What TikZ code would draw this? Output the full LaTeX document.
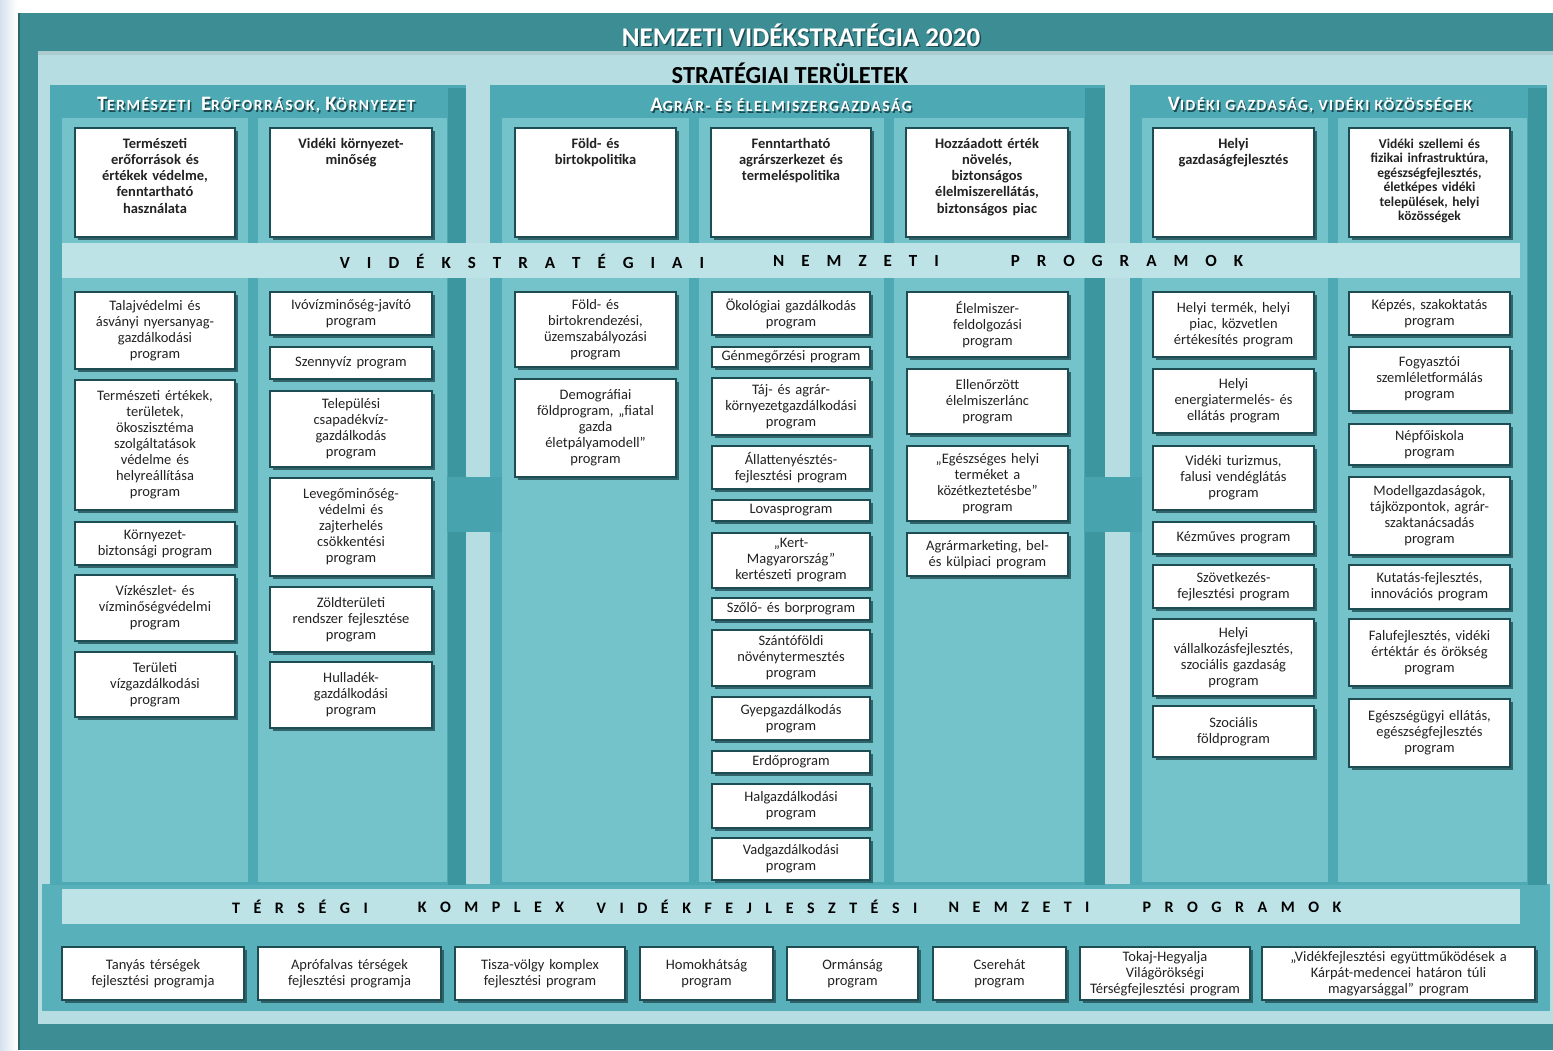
\documentclass[tikz,border=0pt]{standalone}
\usepackage{fontspec}
\setmainfont{Carlito}
\usetikzlibrary{shadows}
\definecolor{frame}{HTML}{3D8D94}
\definecolor{framedk}{HTML}{2B666D}
\definecolor{lightp}{HTML}{B6DEE2}
\definecolor{colbase}{HTML}{4DA9B3}
\definecolor{colstripe}{HTML}{74C2CA}
\definecolor{colshade}{HTML}{3C96A0}
\definecolor{colconn}{HTML}{47A3AD}
\definecolor{bandc}{HTML}{BDE3E7}
\definecolor{botbase}{HTML}{58B1BA}
\definecolor{boxedge}{HTML}{1E4C53}
\definecolor{shadowc}{HTML}{2A5A60}
\definecolor{textc}{HTML}{222222}
\definecolor{leftbl}{HTML}{D5E1EE}
\definecolor{hdrshadow}{HTML}{1D4A50}

\makeatletter
\newcommand\spword[2]{\def\sw@g{#1}\let\sw@sep\relax\@tfor\sw@l:=#2\do{\sw@sep\let\sw@sep\sw@gap\sw@l}}
\newcommand\sw@gap{\hspace{\sw@g}}
\makeatother
\newcommand\bc[1]{{\fontsize{20.5}{20}\selectfont\addfontfeature{LetterSpace=10}#1}}

\tikzset{
  pbox/.style={draw=boxedge, line width=1.8pt, fill=white, inner sep=0pt, align=center,
    text=textc, font=\fontsize{14.5}{16}\selectfont,
    drop shadow={shadow xshift=2.5pt, shadow yshift=-2.5pt, fill=shadowc, opacity=0.9}},
  tbtext/.style={align=center, inner sep=0pt, text=textc, font=\fontsize{14.5}{16.25}\selectfont\bfseries},
  hdr/.style={inner sep=0pt, text=white, font=\fontsize{15.5}{18}\selectfont\bfseries\addfontfeature{LetterSpace=10}},
  ttl/.style={inner sep=0pt, text=white, font=\fontsize{27}{27}\selectfont\bfseries},
  bandtxt/.style={inner sep=0pt, text=black, font=\fontsize{17}{17}\selectfont\bfseries},
  bandtxtb/.style={inner sep=0pt, text=black, font=\fontsize{16}{16}\selectfont\bfseries},
}

% program box: name, x1, y1, x2, y2, text
\newcommand\pb[6]{%
  \pgfmathsetmacro\bw{#4-#2}\pgfmathsetmacro\bh{#5-#3}%
  \pgfmathsetmacro\tw{#4-#2-2}%
  \pgfmathsetmacro\cx{(#2+#4)/2}\pgfmathsetmacro\cy{(#3+#5)/2}%
  \node[pbox, minimum width=\bw pt, minimum height=\bh pt, text width=\tw pt] (#1) at (\cx,\cy) {#6};}
% top box: [text opts] name, x1, x2, text
\newcommand\tb[5][]{%
  \pgfmathsetmacro\bw{#4-#3}\pgfmathsetmacro\cx{(#3+#4)/2}%
  \node[pbox, minimum width=\bw pt, minimum height=109pt] (#2) at (\cx,182.5) {};
  \node[tbtext, #1, text width=\bw pt, anchor=base] (#2t) at (\cx,148) {#5};}
% shadowed header text: name, x, y, style, text
\newcommand\shtext[5]{%
  \node[#4, text=hdrshadow] (#1s) at ({#2+1.5},{#3+1.5}) {#5};
  \node[#4] (#1) at (#2,#3) {#5};}
\newcommand\colpanel[3]{%
  \fill[colbase] (#1,85) rectangle (#2,885);
  \fill[colshade] (#3,88) rectangle (#2,885);}
\newcommand\stripe[2]{\fill[colstripe] (#1,118) rectangle (#2,882);}

\begin{document}
\begin{tikzpicture}[x=1pt,y=-1pt]
\useasboundingbox (0,0) rectangle (1553,1050);
% background and frame
\fill[white] (0,0) rectangle (1553,1050);
\shade[left color=leftbl,right color=white] (0,0) rectangle (17,1050);
\fill[frame] (18,13) rectangle (1553,1050);
\fill[framedk] (18,13) rectangle (20,1050);
\fill[lightp] (38,51) rectangle (1553,1024);
\fill[lightp!80!gray] (38,51) rectangle (1553,55);
\fill[botbase] (42,884) rectangle (1550,1011);

% column panels
\colpanel{50}{466}{448}
\colpanel{490}{1105}{1085}
\colpanel{1130}{1547}{1528}
\stripe{62}{248}\stripe{258}{447}
\stripe{502}{689}\stripe{699}{884}\stripe{894}{1084}
\stripe{1142}{1328}\stripe{1338}{1527}
% connectors between panels
\fill[colconn] (447,477) rectangle (502,532);
\fill[colconn] (1084,477) rectangle (1142,532);
% bands
\fill[bandc] (62,243) rectangle (1520,278);
\fill[bandc] (62,889) rectangle (1520,924);

% titles
\shtext{title}{801}{35}{ttl}{NEMZETI VIDÉKSTRATÉGIA 2020}
\node[inner sep=0pt, font=\fontsize{24.5}{24.5}\selectfont\bfseries, text=black] (strat) at (790,73) {STRATÉGIAI TERÜLETEK};
\shtext{hL}{256}{105}{hdr}{\bc{T}ERMÉSZETI\ \ \bc{E}RŐFORRÁSOK, \bc{K}ÖRNYEZET}
\shtext{hM}{781}{105}{hdr}{\bc{A}GRÁR- ÉS ÉLELMISZERGAZDASÁG}
\shtext{hR}{1320}{105}{hdr}{\bc{V}IDÉKI GAZDASÁG, VIDÉKI KÖZÖSSÉGEK}

% band texts
\node[bandtxt] (vs1) at (522,261) {\spword{17pt}{VIDÉKSTRATÉGIAI}};
\node[bandtxt] (vs2) at (856,261) {\spword{17pt}{NEMZETI}};
\node[bandtxt] (vs3) at (1127,261) {\spword{17pt}{PROGRAMOK}};
\node[bandtxtb] (ts1) at (300,907) {\spword{13.5pt}{TÉRSÉGI}};
\node[bandtxtb] (ts2) at (491,907) {\spword{13.5pt}{KOMPLEX}};
\node[bandtxtb] (ts3) at (757,907) {\spword{13.5pt}{VIDÉKFEJLESZTÉSI}};
\node[bandtxtb] (ts4) at (1019,907) {\spword{13.5pt}{NEMZETI}};
\node[bandtxtb] (ts5) at (1242,907) {\spword{13.5pt}{PROGRAMOK}};

% strategic area boxes
\tb{t1}{75}{235}{Természeti\\erőforrások és\\értékek védelme,\\fenntartható\\használata}
\tb{t2}{270}{432}{Vidéki környezet-\\minőség}
\tb{t3}{515}{676}{Föld- és\\birtokpolitika}
\tb{t4}{711}{871}{Fenntartható\\agrárszerkezet és\\termeléspolitika}
\tb{t5}{906}{1068}{Hozzáadott érték\\növelés,\\biztonságos\\élelmiszerellátás,\\biztonságos piac}
\tb{t6}{1153}{1314}{Helyi\\gazdaságfejlesztés}
\tb[font=\fontsize{13.5}{14.5}\selectfont\bfseries]{t7}{1349}{1510}{Vidéki szellemi és\\fizikai infrastruktúra,\\egészségfejlesztés,\\életképes vidéki\\települések, helyi\\közösségek}

% left column 1
\pb{l1a}{75}{292}{235}{369}{Talajvédelmi és\\ásványi nyersanyag-\\gazdálkodási\\program}
\pb{l1b}{75}{380}{235}{510}{Természeti értékek,\\területek,\\ökoszisztéma\\szolgáltatások\\védelme és\\helyreállítása\\program}
\pb{l1c}{75}{522}{235}{565}{Környezet-\\biztonsági program}
\pb{l1d}{75}{575}{235}{641}{Vízkészlet- és\\vízminőségvédelmi\\program}
\pb{l1e}{75}{652}{235}{717}{Területi\\vízgazdálkodási\\program}
% left column 2
\pb{l2a}{270}{292}{432}{335}{Ivóvízminőség-javító\\program}
\pb{l2b}{270}{347}{432}{379}{Szennyvíz program}
\pb{l2c}{270}{391}{432}{467}{Települési\\csapadékvíz-\\gazdálkodás\\program}
\pb{l2d}{270}{478}{432}{576}{Levegőminőség-\\védelmi és\\zajterhelés\\csökkentési\\program}
\pb{l2e}{270}{587}{432}{652}{Zöldterületi\\rendszer fejlesztése\\program}
\pb{l2f}{270}{662}{432}{728}{Hulladék-\\gazdálkodási\\program}
% middle column 1
\pb{m1a}{515}{292}{676}{367}{Föld- és\\birtokrendezési,\\üzemszabályozási\\program}
\pb{m1b}{515}{379}{676}{477}{Demográfiai\\földprogram, „fiatal\\gazda\\életpályamodell”\\program}
% middle column 2
\pb{m2a}{712}{292}{870}{335}{Ökológiai gazdálkodás\\program}
\pb{m2b}{712}{347}{870}{367}{Génmegőrzési program}
\pb{m2c}{712}{378}{870}{435}{Táj- és agrár-\\környezetgazdálkodási\\program}
\pb{m2d}{712}{446}{870}{489}{Állattenyésztés-\\fejlesztési program}
\pb{m2e}{712}{500}{870}{521}{Lovasprogram}
\pb{m2f}{712}{533}{870}{588}{„Kert-\\Magyarország”\\kertészeti program}
\pb{m2g}{712}{598}{870}{620}{Szőlő- és borprogram}
\pb{m2h}{712}{630}{870}{686}{Szántóföldi\\növénytermesztés\\program}
\pb{m2i}{712}{697}{870}{740}{Gyepgazdálkodás\\program}
\pb{m2j}{712}{751}{870}{773}{Erdőprogram}
\pb{m2k}{712}{784}{870}{828}{Halgazdálkodási\\program}
\pb{m2l}{712}{838}{870}{880}{Vadgazdálkodási\\program}
% middle column 3
\pb{m3a}{907}{292}{1068}{357}{Élelmiszer-\\feldolgozási\\program}
\pb{m3b}{907}{369}{1068}{434}{Ellenőrzött\\élelmiszerlánc\\program}
\pb{m3c}{907}{446}{1068}{521}{„Egészséges helyi\\terméket a\\közétkeztetésbe”\\program}
\pb{m3d}{907}{533}{1068}{576}{Agrármarketing, bel-\\és külpiaci program}
% right column 1
\pb{r1a}{1153}{292}{1314}{357}{Helyi termék, helyi\\piac, közvetlen\\értékesítés program}
\pb{r1b}{1153}{369}{1314}{433}{Helyi\\energiatermelés- és\\ellátás program}
\pb{r1c}{1153}{446}{1314}{510}{Vidéki turizmus,\\falusi vendéglátás\\program}
\pb{r1d}{1153}{522}{1314}{554}{Kézműves program}
\pb{r1e}{1153}{565}{1314}{608}{Szövetkezés-\\fejlesztési program}
\pb{r1f}{1153}{619}{1314}{696}{Helyi\\vállalkozásfejlesztés,\\szociális gazdaság\\program}
\pb{r1g}{1153}{706}{1314}{757}{Szociális\\földprogram}
% right column 2
\pb{r2a}{1349}{292}{1510}{335}{Képzés, szakoktatás\\program}
\pb{r2b}{1349}{347}{1510}{411}{Fogyasztói\\szemléletformálás\\program}
\pb{r2c}{1349}{424}{1510}{465}{Népfőiskola\\program}
\pb{r2d}{1349}{477}{1510}{555}{Modellgazdaságok,\\tájközpontok, agrár-\\szaktanácsadás\\program}
\pb{r2e}{1349}{565}{1510}{609}{Kutatás-fejlesztés,\\innovációs program}
\pb{r2f}{1349}{619}{1510}{686}{Falufejlesztés, vidéki\\értéktár és örökség\\program}
\pb{r2g}{1349}{699}{1510}{767}{Egészségügyi ellátás,\\egészségfejlesztés\\program}

% regional programmes
\pb{b1}{62}{947}{244}{1000}{Tanyás térségek\\fejlesztési programja}
\pb{b2}{258}{947}{441}{1000}{Aprófalvas térségek\\fejlesztési programja}
\pb{b3}{455}{947}{625}{1000}{Tisza-völgy komplex\\fejlesztési program}
\pb{b4}{640}{947}{773}{1000}{Homokhátság\\program}
\pb{b5}{787}{947}{918}{1000}{Ormánság\\program}
\pb{b6}{933}{947}{1066}{1000}{Cserehát\\program}
\pb{b7}{1080}{947}{1250}{1000}{Tokaj-Hegyalja\\Világörökségi\\Térségfejlesztési program}
\pb{b8}{1262}{947}{1535}{1000}{„Vidékfejlesztési együttműködések a\\Kárpát-medencei határon túli\\magyarsággal” program}
\end{tikzpicture}
\end{document}
